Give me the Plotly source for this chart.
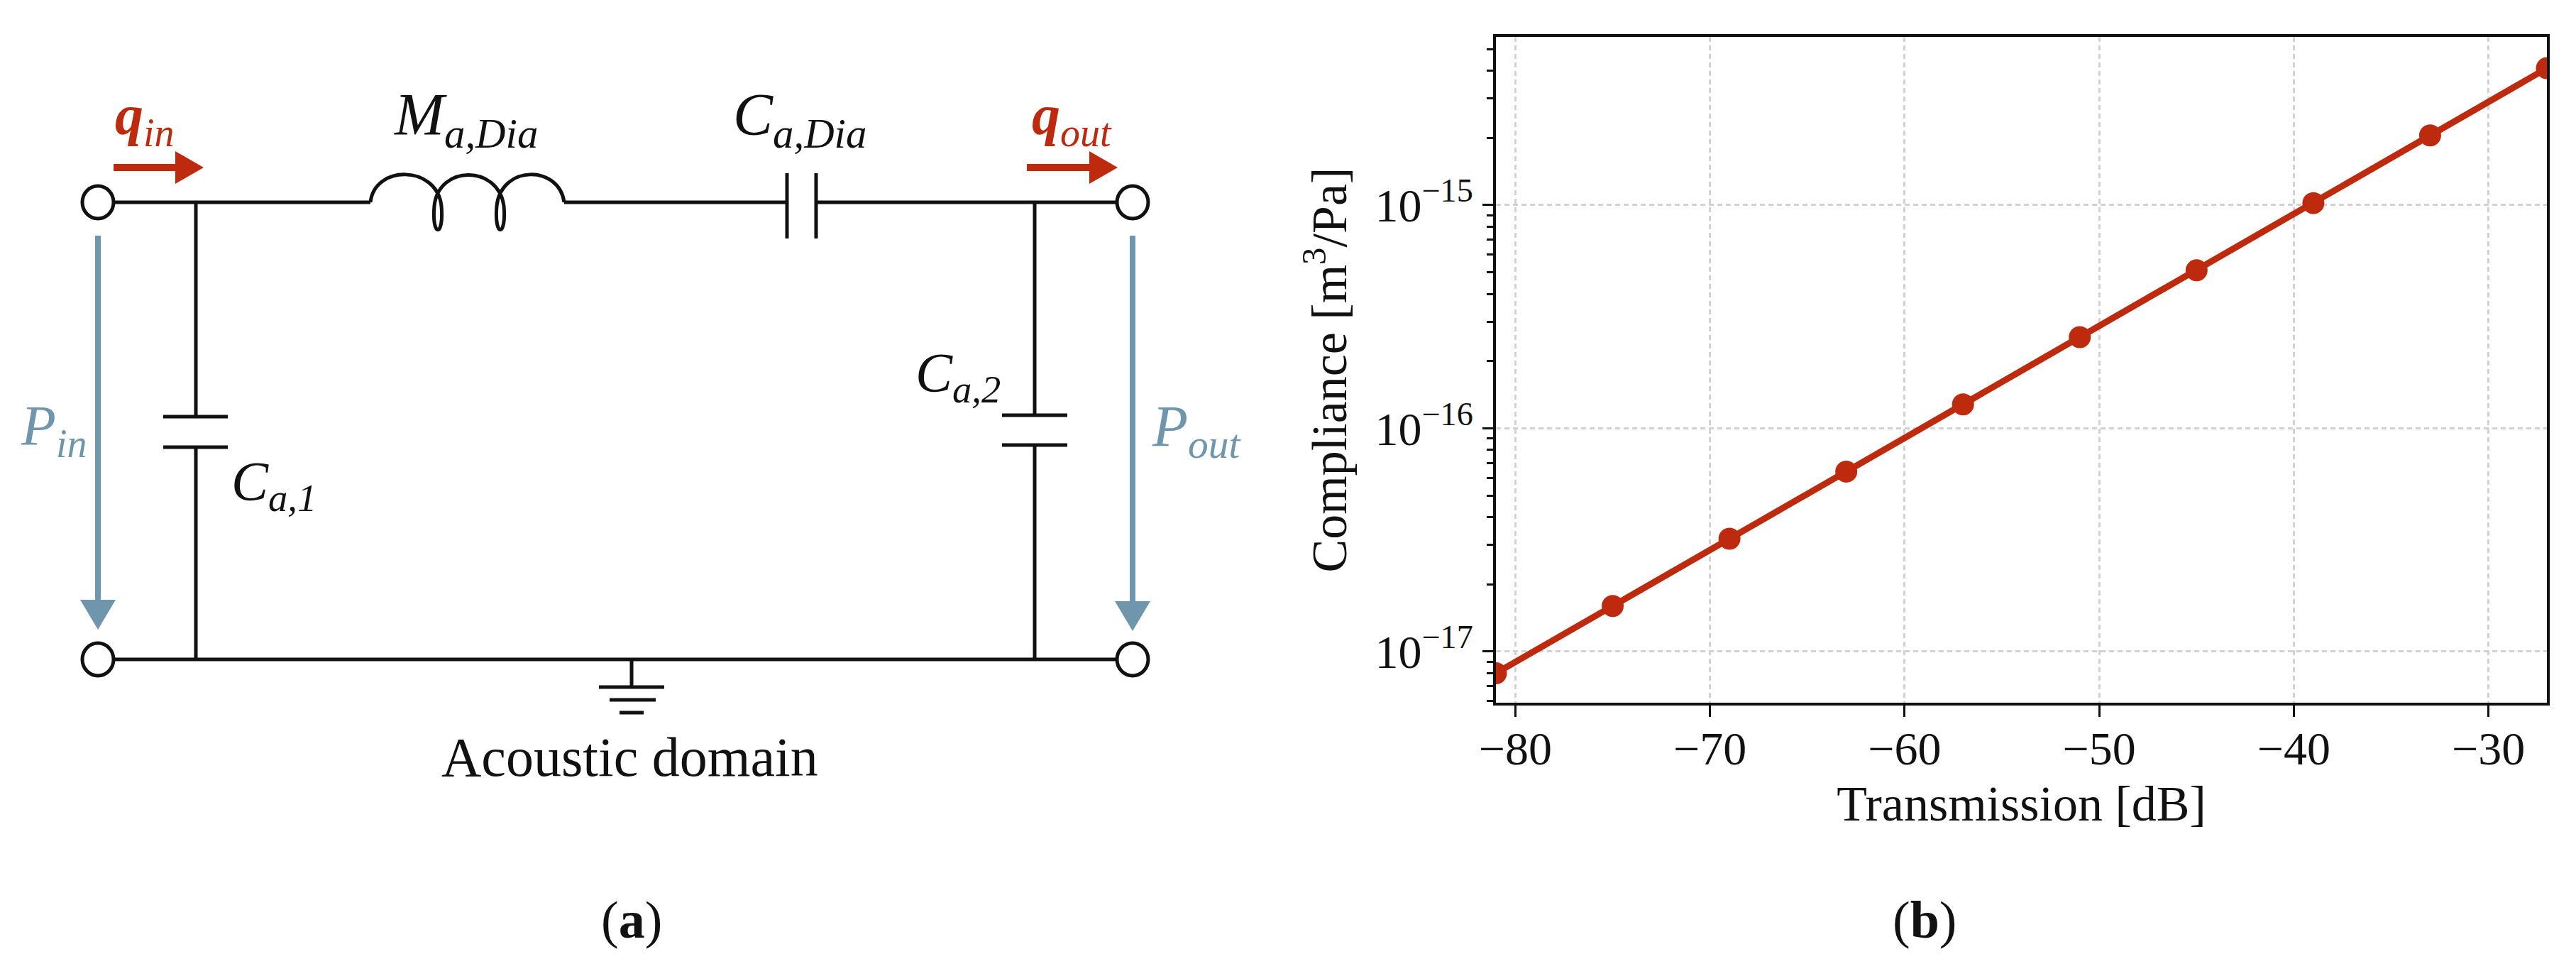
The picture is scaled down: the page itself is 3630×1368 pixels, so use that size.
import plotly.graph_objects as go

# measured compliance curve, panel (b)
transmission_db = [-81, -75, -69, -63, -57, -51, -45, -39, -33, -27]
compliance = [8.0e-18, 1.6e-17, 3.2e-17, 6.4e-17, 1.28e-16, 2.56e-16, 5.1e-16, 1.02e-15, 2.05e-15, 4.1e-15]
x_ticks = [-80, -70, -60, -50, -40, -30]
y_ticks = [1e-17, 1e-16, 1e-15]
y_tick_labels = ["10<sup>\u221217</sup>", "10<sup>\u221216</sup>", "10<sup>\u221215</sup>"]
y_minor_ticks = [m * 10.0 ** e for e in (-18, -17, -16, -15) for m in range(2, 10)]

W, H = 3630, 1368
RED = "#BE2A0E"
BLUE = "#6F96AC"
BLACK = "#111111"
GRID = "#d2d2d2"
FONT = "Liberation Serif"

# circuit drawing, panel (a), in canvas pixels
WIRES = [
    (161, 285, 522, 285), (795, 285, 1109, 285), (1150, 285, 1573, 285),
    (1109, 244, 1109, 336), (1150, 244, 1150, 336),
    (276, 285, 276, 587), (276, 630, 276, 929),
    (230, 587, 321, 587), (230, 630, 321, 630),
    (1458, 285, 1458, 585), (1458, 627, 1458, 929),
    (1412, 585, 1504, 585), (1412, 627, 1504, 627),
    (161, 929, 1573, 929), (890, 929, 890, 968),
    (844, 968, 936, 968), (859, 986, 924, 986), (873, 1004, 907, 1004),
]
TERMINALS = [(138, 285), (1596, 285), (138, 929), (1596, 929)]
COIL = ("M 522 285 C 528 232, 615 232, 622 290 C 626 335, 608 335, 612 290 "
        "C 618 232, 702 232, 710 290 C 714 335, 696 335, 700 290 "
        "C 706 232, 788 232, 795 285")
LABELS = [
    (204, 168, "<i><b>q</b></i><sub><i>in</i></sub>", RED, 80),
    (656, 168, "<i>M</i><sub><i>a,Dia</i></sub>", BLACK, 84),
    (1127, 168, "<i>C</i><sub><i>a,Dia</i></sub>", BLACK, 84),
    (1510, 168, "<i><b>q</b></i><sub><i>out</i></sub>", RED, 80),
    (75, 606, "<i>P</i><sub><i>in</i></sub>", BLUE, 80),
    (1686, 606, "<i>P</i><sub><i>out</i></sub>", BLUE, 82),
    (386, 683, "<i>C</i><sub><i>a,1</i></sub>", BLACK, 78),
    (1350, 530, "<i>C</i><sub><i>a,2</i></sub>", BLACK, 78),
    (887, 1066, "Acoustic domain", BLACK, 78),
    (890, 1296, "(<b>a</b>)", BLACK, 74),
    (2712, 1296, "(<b>b</b>)", BLACK, 74),
]


def arrow_right(x0, x1, y):
    return f"M {x0} {y-5} L {x1-40} {y-5} L {x1-40} {y-23} L {x1} {y} L {x1-40} {y+23} L {x1-40} {y+5} L {x0} {y+5} Z"


def arrow_down(x, y0, y1):
    return f"M {x-4} {y0} L {x+4} {y0} L {x+4} {y1-42} L {x+25} {y1-42} L {x} {y1} L {x-25} {y1-42} L {x-4} {y1-42} Z"


fig = go.Figure()
fig.add_trace(go.Scatter(
    x=transmission_db, y=compliance,
    mode="lines+markers",
    line=dict(color=RED, width=9),
    marker=dict(color=RED, size=31),
    showlegend=False,
))
# invisible trace so the pixel axes exist for the circuit shapes
fig.add_trace(go.Scatter(x=[0], y=[0], xaxis="x2", yaxis="y2", mode="markers",
                         marker=dict(opacity=0), showlegend=False, hoverinfo="skip"))

pixel_ref = dict(xref="x2", yref="y2")
for x0, y0, x1, y1 in WIRES:
    fig.add_shape(type="line", x0=x0, y0=y0, x1=x1, y1=y1, line=dict(color=BLACK, width=5), **pixel_ref)
fig.add_shape(type="path", path=COIL, line=dict(color=BLACK, width=5), **pixel_ref)
for cx, cy in TERMINALS:
    fig.add_shape(type="circle", x0=cx - 22, y0=cy - 23, x1=cx + 22, y1=cy + 23,
                  line=dict(color=BLACK, width=5), fillcolor="white", **pixel_ref)
for path, col in [
    (arrow_right(160, 287, 236), RED),
    (arrow_right(1447, 1575, 236), RED),
    (arrow_down(138, 332, 887), BLUE),
    (arrow_down(1596, 332, 889), BLUE),
]:
    fig.add_shape(type="path", path=path, line=dict(width=0), fillcolor=col, **pixel_ref)

for x, y, text, col, size in LABELS:
    fig.add_annotation(x=x, y=y, text=text, showarrow=False, xanchor="center", yanchor="middle",
                       font=dict(family=FONT, size=size, color=col), **pixel_ref)

axis_font = dict(family=FONT, size=66, color=BLACK)
fig.update_layout(
    width=W, height=H,
    margin=dict(l=0, r=0, t=0, b=0, autoexpand=False),
    paper_bgcolor="white",
    plot_bgcolor="rgba(0,0,0,0)",
    xaxis=dict(
        domain=[2108 / W, 3589 / W],
        range=[-81, -27],
        tickmode="array", tickvals=x_ticks,
        ticks="outside", ticklen=16, tickwidth=3, tickcolor=BLACK,
        ticklabelstandoff=-12,
        showline=True, linecolor=BLACK, linewidth=4, mirror=True,
        showgrid=True, gridcolor=GRID, griddash="7px,5px", gridwidth=3,
        zeroline=False,
        tickfont=axis_font,
        automargin=False,
        title=dict(text="Transmission [dB]", font=dict(family=FONT, size=70, color=BLACK), standoff=18),
        anchor="y",
    ),
    yaxis=dict(
        domain=[1 - 990 / H, 1 - 52 / H],
        type="log",
        range=[-17.229, -14.247],
        tickmode="array", tickvals=y_ticks, ticktext=y_tick_labels,
        ticks="outside", ticklen=15, tickwidth=3, tickcolor=BLACK,
        minor=dict(ticks="outside", ticklen=9, tickwidth=3, tickcolor=BLACK,
                   tickmode="array", tickvals=y_minor_ticks, showgrid=False),
        showline=True, linecolor=BLACK, linewidth=4, mirror=True,
        showgrid=True, gridcolor=GRID, griddash="7px,5px", gridwidth=3,
        zeroline=False,
        tickfont=axis_font,
        automargin=False,
        title=dict(text="Compliance [m<sup>3</sup>/Pa]", font=dict(family=FONT, size=70, color=BLACK), standoff=18),
        anchor="x",
    ),
    xaxis2=dict(domain=[0, 1], range=[0, W], visible=False, anchor="y2", automargin=False),
    yaxis2=dict(domain=[0, 1], range=[H, 0], visible=False, anchor="x2", automargin=False),
)

fig.write_html("out.html", post_script="document.body.style.margin='0';", config=dict(displayModeBar=False))
